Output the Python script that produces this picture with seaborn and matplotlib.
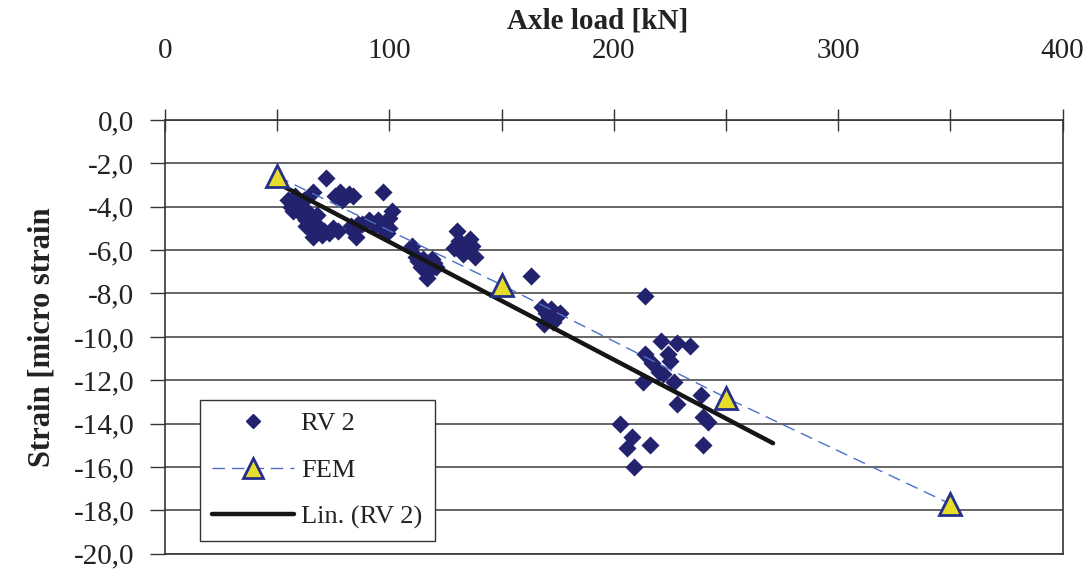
import numpy as np
import pandas as pd
import matplotlib
matplotlib.use("Agg")
import matplotlib.pyplot as plt
from matplotlib.ticker import MultipleLocator, FuncFormatter
from matplotlib.lines import Line2D
import seaborn as sns

# ---- data ----
rv2_load = [55, 56, 57, 58, 59, 60, 61, 62, 63, 64, 65, 66, 67, 68, 66, 72, 66, 58, 62, 69,
            63, 65, 70,
            71, 73, 75, 77, 76, 78, 80, 82, 84, 79, 83, 85, 86, 84, 88,
            91, 93, 95, 96, 97, 98, 99, 100, 101, 100, 94,
            110, 112, 113, 114, 115, 116, 117, 118, 119, 120, 121,
            130, 131, 132, 133, 134, 135, 136, 137, 138, 129,
            163,
            168, 169, 170, 171, 172, 173, 175, 176,
            214, 221, 228, 234, 224, 225, 214, 217, 220, 227, 213, 228, 239, 240, 242,
            203, 208, 206, 216, 240, 209, 222]
rv2_strain = [-3.7, -4.0, -4.2, -3.8, -4.1, -3.9, -4.4, -4.1, -4.6, -4.3, -4.7, -4.5, -4.9, -4.4, -3.3, -2.7, -5.4, -3.5, -3.7, -5.0,
              -4.9, -5.0, -5.3,
              -5.1, -5.2, -5.0, -5.1, -3.5, -3.3, -3.6, -3.4, -3.5, -3.7, -4.9, -5.4, -4.8, -5.1, -4.8,
              -4.6, -4.8, -4.6, -4.9, -3.3, -4.7, -5.2, -4.5, -4.2, -5.0, -4.8,
              -5.8, -6.3, -6.5, -6.8, -6.4, -6.6, -7.3, -6.9, -6.4, -6.6, -6.8,
              -5.1, -5.6, -5.9, -6.2, -5.7, -6.0, -5.5, -5.8, -6.3, -5.9,
              -7.2,
              -8.6, -9.4, -8.9, -9.1, -8.7, -9.3, -9.0, -8.9,
              -8.1, -10.2, -10.3, -10.4, -10.8, -11.1, -10.8, -11.2, -11.6, -12.1, -12.1, -13.1, -12.7, -13.7, -13.9,
              -14.0, -14.6, -15.1, -15.0, -15.0, -16.0, -11.7]
fem_load = [50, 150, 250, 350]
fem_strain = [-2.6, -7.6, -12.8, -17.7]
# linear trend line "Lin. (RV 2)" (its two ends)
trend_load = [53, 271]
trend_strain = [-3.07, -14.9]

x_ticks = [0, 100, 200, 300, 400]
y_ticks = [0, -2, -4, -6, -8, -10, -12, -14, -16, -18, -20]

# ---- figure ----
sns.set_theme(style="white")
plt.rcParams["font.family"] = ["Liberation Serif", "DejaVu Serif"]

fig = plt.figure(figsize=(10.92, 5.71), dpi=100)
ax = fig.add_axes([0.151, 0.030, 0.822, 0.760])

rv2 = pd.DataFrame({"load": rv2_load, "strain": rv2_strain})
fem = pd.DataFrame({"load": fem_load, "strain": fem_strain})
trend = pd.DataFrame({"load": trend_load, "strain": trend_strain})

for y in y_ticks:
    ax.axhline(y, color="#3a3a3a", lw=1.1, zorder=0)

sns.scatterplot(data=rv2, x="load", y="strain", marker="D", s=85, color="#22226e",
                edgecolor="#22226e", linewidth=0, ax=ax, zorder=3, legend=False)
sns.lineplot(data=trend, x="load", y="strain", color="#151515", lw=3.2, ax=ax,
             zorder=4, legend=False)
sns.lineplot(data=fem, x="load", y="strain", color="#4d6fc4", lw=1.0, ax=ax,
             zorder=5, legend=False)
ax.lines[-1].set_dashes([9, 5])
ax.plot(fem_load, fem_strain, linestyle="none", marker="^", markersize=16,
        markerfacecolor="#e6dc2a", markeredgecolor="#26308a", markeredgewidth=2.0, zorder=6)

ax.set_xlim(0, 400)
ax.set_ylim(-20, 0)
ax.xaxis.tick_top()
ax.xaxis.set_label_position("top")
ax.set_xticks(x_ticks)
ax.xaxis.set_minor_locator(MultipleLocator(50))
ax.set_yticks(y_ticks)
ax.yaxis.set_major_formatter(FuncFormatter(lambda v, p: f"{v:.1f}".replace(".", ",")))

ax.tick_params(axis="x", which="both", direction="inout", length=16, width=1.0,
               color="#333333", top=True, bottom=False, labeltop=True, labelbottom=False,
               labelsize=21, pad=32, labelcolor="#222222")
ax.tick_params(axis="y", which="major", direction="out", length=11, width=1.0,
               color="#333333", left=True, labelsize=21, pad=11, labelcolor="#222222")

for side in ["left", "right", "bottom", "top"]:
    ax.spines[side].set_color("#333333")
    ax.spines[side].set_linewidth(1.2)

ax.set_xlabel("Axle load [kN]", fontsize=21, fontweight="bold", color="#222222")
ax.xaxis.set_label_coords(0.482, 1.21)
ax.set_ylabel("Strain [micro strain", fontsize=22, fontweight="bold", labelpad=12, color="#222222")

# legend
h_rv = Line2D([], [], linestyle="none", marker="D", markersize=7, color="#22226e")
h_fem = Line2D([], [], color="#4d6fc4", lw=1.0, dashes=[9, 5], marker="^", markersize=15,
               markerfacecolor="#e6dc2a", markeredgecolor="#26308a", markeredgewidth=2.0)
h_lin = Line2D([], [], color="#151515", lw=3.2)
leg = ax.legend([h_rv, h_fem, h_lin], ["RV 2", "FEM", "Lin. (RV 2)"], loc="lower left",
                bbox_to_anchor=(0.039, 0.03), fontsize=19, frameon=True, fancybox=False,
                edgecolor="#333333", framealpha=1, handlelength=3.1, handletextpad=0.3,
                labelspacing=0.88, borderpad=0.45, borderaxespad=0)
leg.get_frame().set_linewidth(1.0)
for t in leg.get_texts():
    t.set_color("#222222")

fig.savefig("out.png", dpi=100)
